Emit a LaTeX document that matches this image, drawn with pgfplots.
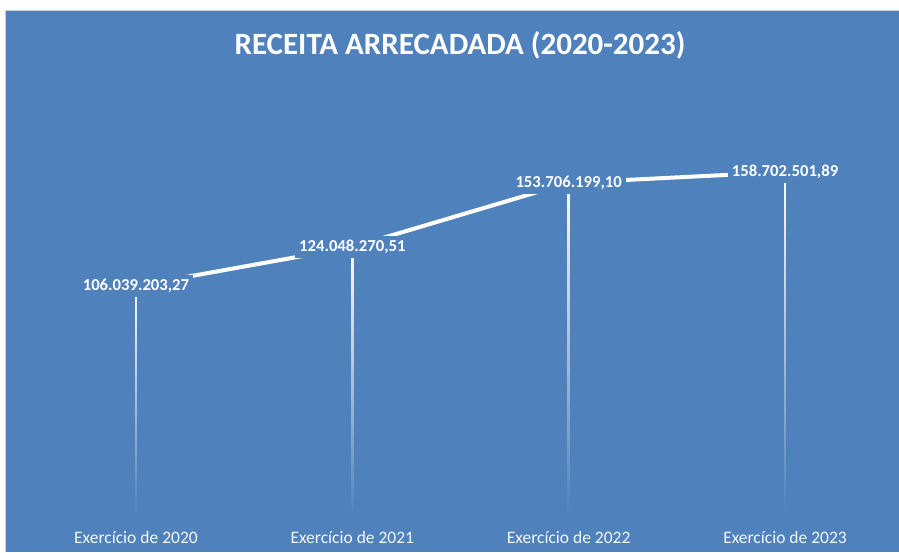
\documentclass[border=0pt]{standalone}
\usepackage{fontspec}
\setmainfont{Carlito}
\usepackage{pgfplots}
\pgfplotsset{compat=1.18}
\usetikzlibrary{fadings}
\definecolor{bgblue}{RGB}{79,129,189}
\definecolor{bordergrey}{RGB}{200,205,212}
\tikzfading[name=fadedown, top color=transparent!0, bottom color=transparent!100]
\begin{document}
\begin{tikzpicture}[x=1pt,y=1pt]
\fill[white] (0,0) rectangle (899,552);
\fill[bgblue] (6,0) rectangle (899,541);
\draw[bordergrey, line width=1pt] (5.5,0) -- (5.5,541.5) -- (899,541.5);
\begin{axis}[
  at={(27.8pt,36.4pt)}, anchor=south west,
  scale only axis, width=865.4pt, height=389.7pt,
  xmin=-0.5, xmax=3.5, ymin=0, ymax=180000000,
  axis line style={draw=none},
  major tick length=0pt,
  ytick=\empty,
  xtick={0,1,2,3},
  xticklabels={Exercício de 2020,Exercício de 2021,Exercício de 2022,Exercício de 2023},
  x tick label style={anchor=center, yshift=-21.4pt, text=white!94!bgblue,
     font=\fontsize{17.5}{21}\selectfont},
  clip=false,
]
\addplot[ycomb, draw=white, line width=2.4pt, path fading=fadedown] coordinates {(0,106039203.27)};
\addplot[ycomb, draw=white, line width=2.4pt, path fading=fadedown] coordinates {(1,124048270.51)};
\addplot[ycomb, draw=white, line width=2.4pt, path fading=fadedown] coordinates {(2,153706199.10)};
\addplot[ycomb, draw=white, line width=2.4pt, path fading=fadedown] coordinates {(3,158702501.89)};
\addplot[white, line width=4pt, no marks, line join=round,
  nodes near coords, point meta=explicit symbolic,
  every node near coord/.style={fill=bgblue, inner sep=4pt, anchor=center, text=white,
     font=\bfseries\fontsize{16.7}{20}\selectfont}]
  coordinates {
  (0,106039203.27) [106.039.203,27]
  (1,124048270.51) [124.048.270,51]
  (2,153706199.10) [153.706.199,10]
  (3,158702501.89) [158.702.501,89]
  };
\end{axis}
\node[text=white, font=\bfseries\fontsize{31}{37}\selectfont] at (460,507) {RECEITA ARRECADADA (2020-2023)};
\pgfresetboundingbox
\path[use as bounding box] (0,0) rectangle (899,552);
\end{tikzpicture}
\end{document}
